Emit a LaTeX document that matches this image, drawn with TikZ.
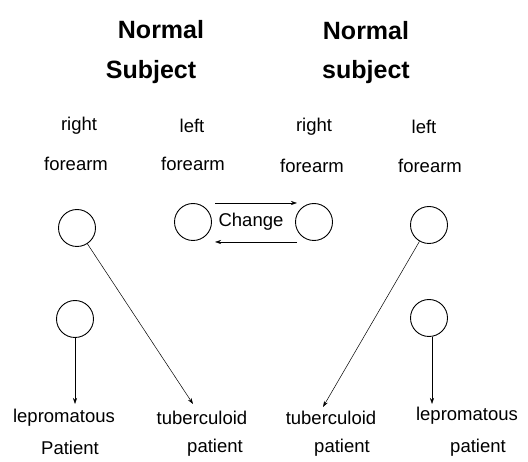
\documentclass[tikz,border=0pt]{standalone}
\usepackage{fontspec}
\setmainfont{Liberation Sans}
\usetikzlibrary{arrows.meta}
\begin{document}
\begin{tikzpicture}[x=1pt,y=-1pt,
  title/.style={font=\fontsize{25}{27}\selectfont\bfseries, inner sep=0pt},
  lab/.style={font=\fontsize{18.5}{20}\selectfont, inner sep=0pt},
  pat/.style={font=\fontsize{18.5}{20}\selectfont, inner sep=0pt},
  ring/.style={circle, draw, line width=0.9pt, minimum size=37pt, inner sep=0pt},
  conn/.style={draw, line width=0.5pt, -{Stealth[length=6pt,width=4pt]}}]
\useasboundingbox (0,0) rectangle (528,462);
% titles
\node[title] (n1) at (161,30) {Normal};
\node[title] (s1) at (151,72) {Subject};
\node[title] (n2) at (366,31) {Normal};
\node[title] (s2) at (366,72) {subject};
% forearm labels
\node[lab] (r1) at (79,126) {right};
\node[lab] (f1) at (76,164) {forearm};
\node[lab] (l1) at (192,126) {left};
\node[lab] (f2) at (193,164) {forearm};
\node[lab] (r2) at (314,127) {right};
\node[lab] (f3) at (312,166) {forearm};
\node[lab] (l2) at (424,127) {left};
\node[lab] (f4) at (430,166) {forearm};
% circles
\node[ring] (c1) at (77,228) {};
\node[ring] (c2) at (193,222) {};
\node[ring] (c3) at (314,222) {};
\node[ring] (c4) at (429,225) {};
\node[ring] (c5) at (75,319) {};
\node[ring] (c6) at (429,318) {};
% change
\node[lab] (ch) at (251,222) {Change};
\coordinate (a1) at (215,203);
\coordinate (a2) at (297,203);
\coordinate (b1) at (297,242);
\coordinate (b2) at (215,242);
\draw[conn] (a1) -- (a2);
\draw[conn] (b1) -- (b2);
% patients
\node[pat] (p1) at (64,418) {lepromatous};
\node[pat] (q1) at (70,448) {Patient};
\node[pat] (p2) at (202,418) {tuberculoid};
\node[pat] (q2) at (215,448) {patient};
\node[pat] (p3) at (331,418) {tuberculoid};
\node[pat] (q3) at (342,448) {patient};
\node[pat] (p4) at (467,416) {lepromatous};
\node[pat] (q4) at (478,448) {patient};
% connectors
\coordinate (d1) at (193,404);
\coordinate (d2) at (323,407);
\coordinate (v1) at (75,404);
\coordinate (v2) at (432,404);
\draw[conn] (c1) -- (d1);
\draw[conn] (c4) -- (d2);
\draw[conn] (c5) -- (v1);
\draw[conn] (c6.south -| v2) -- (v2);
\end{tikzpicture}
\end{document}
